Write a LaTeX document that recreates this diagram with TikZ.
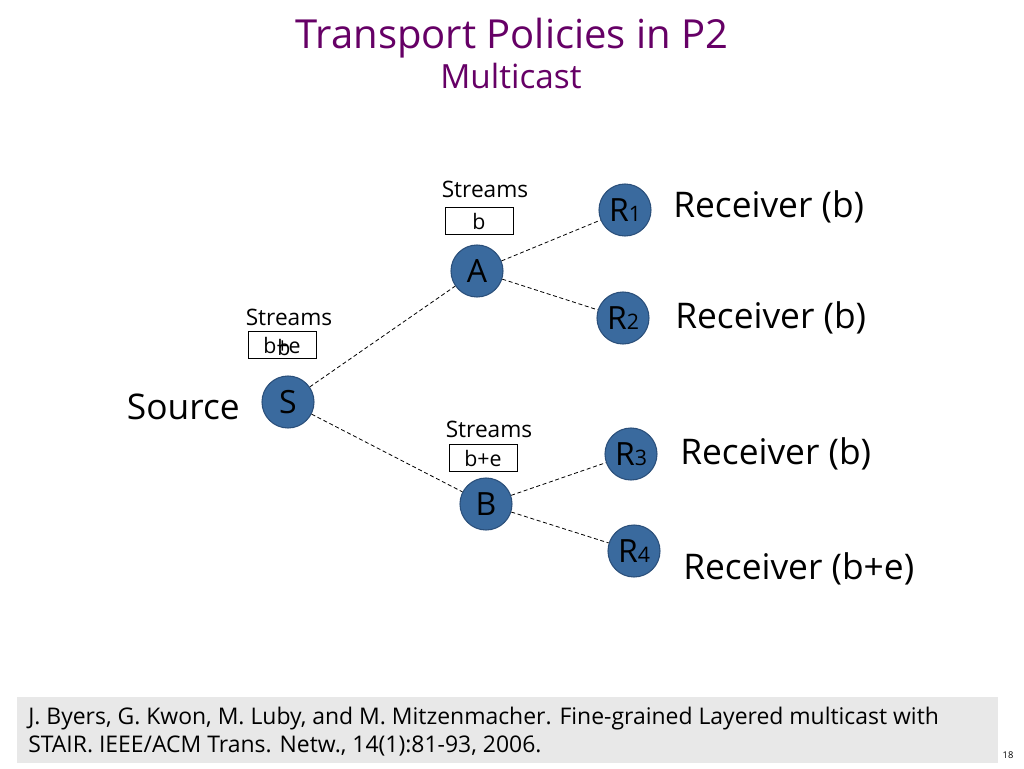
\documentclass[tikz,border=0pt]{standalone}
\usepackage{fontspec}
\setmainfont{Open Sans}
\definecolor{titlepurple}{HTML}{660066}
\definecolor{nodeblue}{HTML}{3A6A9E}
\definecolor{nodeedge}{HTML}{2A4F7A}
\definecolor{footgray}{HTML}{E8E8E8}
\begin{document}
\begin{tikzpicture}[x=0.75pt,y=-0.75pt,
  hub/.style={circle,fill=nodeblue,draw=nodeedge,line width=0.8pt,minimum size=39pt,inner sep=0pt,font=\fontsize{24}{24}\selectfont},
  link/.style={dashed,line width=0.6pt,dash pattern=on 3pt off 2pt},
  recv/.style={anchor=west,inner sep=0pt,font=\fontsize{26.5}{26.5}\selectfont},
  strlabel/.style={font=\fontsize{17}{17}\selectfont},
  strbox/.style={draw,line width=0.6pt,minimum width=51pt,minimum height=20pt,inner sep=0pt,font=\fontsize{16}{16}\selectfont}]
\useasboundingbox (0,0) rectangle (1024,768);
\fill[white] (0,0) rectangle (1024,768);
% title
\node[titlepurple,font=\fontsize{30}{30}\selectfont] (title) at (512,38) {Transport Policies in P2};
\node[titlepurple,font=\fontsize{25}{25}\selectfont] (sub) at (511,76) {Multicast};
% nodes
\node[hub] (S) at (288,402) {S};
\node[hub] (A) at (477,271) {A};
\node[hub] (B) at (486,504) {B};
\node[hub] (R1) at (625,210) {R\fontsize{16}{16}\selectfont 1};
\node[hub] (R2) at (623,318) {R\fontsize{16}{16}\selectfont 2};
\node[hub] (R3) at (631,454) {R\fontsize{16}{16}\selectfont 3};
\node[hub] (R4) at (634,551) {R\fontsize{16}{16}\selectfont 4};
% links
\draw[link] (S) -- (A);
\draw[link] (S) -- (B);
\draw[link] (A) -- (R1);
\draw[link] (A) -- (R2);
\draw[link] (B) -- (R3);
\draw[link] (B) -- (R4);
% labels
\node[anchor=east,inner sep=0pt,font=\fontsize{26.5}{26.5}\selectfont] (src) at (240,407) {Source};
\node[recv] (l1) at (673,207) {Receiver (b)};
\node[recv] (l2) at (675,318) {Receiver (b)};
\node[recv] (l3) at (680,454) {Receiver (b)};
\node[recv] (l4) at (683,569) {Receiver (b+e)};
% streams
\node[strlabel] (stS) at (289,317) {Streams};
\node[strbox] (bxS) at (282,345) {b+e};
\node[font=\fontsize{16}{16}\selectfont] (bxSb) at (284,347) {b};
\node[strlabel] (stA) at (485,189) {Streams};
\node[strbox] (bxA) at (479,221) {b};
\node[strlabel] (stB) at (489,429) {Streams};
\node[strbox] (bxB) at (483,458) {b+e};
% footer
\fill[footgray] (17,697) rectangle (998,763);
\node[anchor=north west,align=left,font=\fontsize{17.2}{20.5}\selectfont,inner sep=0pt] (foot) at (28,707) {J. Byers, G. Kwon, M. Luby, and M. Mitzenmacher. Fine-grained Layered multicast with\\STAIR. IEEE/ACM Trans. Netw., 14(1):81-93, 2006.};
\node[font=\fontsize{7}{7}\selectfont] (pg) at (1008,755) {18};
\end{tikzpicture}
\end{document}
